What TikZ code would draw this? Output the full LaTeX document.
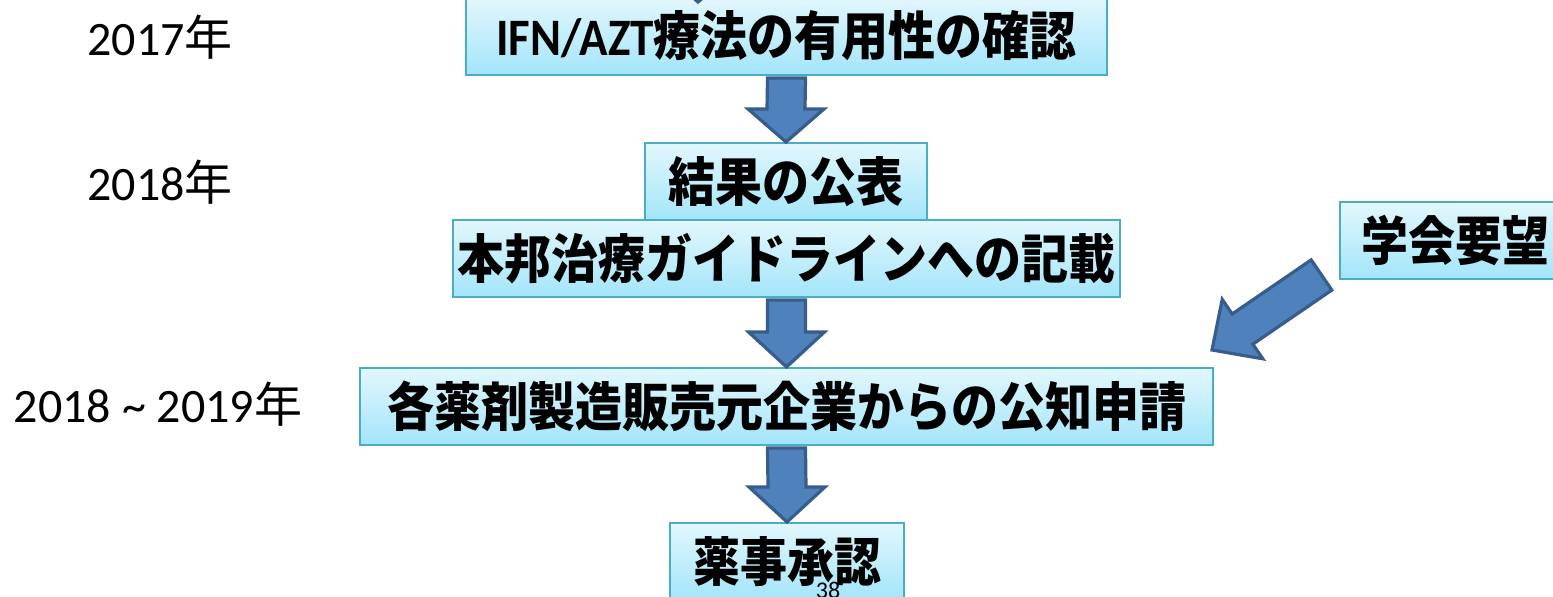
\documentclass[tikz,border=0pt]{standalone}
\usepackage{fontspec}
\usepackage{graphicx}
\usetikzlibrary{calc}
\newfontfamily\jp{Noto Sans CJK JP}
\newfontfamily\calibri{Carlito}
\definecolor{boxtop}{HTML}{E2F7FD}
\definecolor{boxbot}{HTML}{A3E5FA}
\definecolor{boxline}{HTML}{4BACC6}
\definecolor{arrfill}{HTML}{4F81BD}
\definecolor{arrline}{HTML}{385D8A}
\newcommand\tall[1]{\scalebox{1}[1.12]{#1}}
\tikzset{
  stepbox/.style={draw=boxline, line width=1pt, top color=boxtop, bottom color=boxbot,
    inner sep=0pt, minimum height=38.5pt, font=\jp\bfseries\fontsize{23.5}{28}\selectfont},
  blockarrow/.style={fill=arrfill, draw=arrline, line width=1.6pt, line join=miter},
  yearlabel/.style={inner sep=0pt, font=\calibri\fontsize{24}{28}\selectfont},
  pagenum/.style={inner sep=0pt, font=\calibri\fontsize{12}{14}\selectfont}
}
\newcommand\blockdown[3]{% from node, to node, head length
  \draw[blockarrow] ($(#1.south)+(-19,2)$) -- ($(#1.south)+(19,2)$)
    -- ($(#2.north)+(19,-#3)$) -- ($(#2.north)+(38,-#3)$) -- (#2.north)
    -- ($(#2.north)+(-38,-#3)$) -- ($(#2.north)+(-19,-#3)$) -- cycle;}
\begin{document}
\begin{tikzpicture}[x=0.5pt,y=-0.5pt]
\useasboundingbox (0,0) rectangle (1553,597);
% boxes
\node[stepbox, minimum width=320.5pt, minimum height=39pt] (b1) at (786.5,36)
  {\tall{{\calibri\bfseries IFN/AZT}療法の有用性の確認}};
\node[stepbox, minimum width=141pt] (b2) at (786,181.5) {\tall{結果の公表}};
\node[stepbox, minimum width=333.5pt] (b3) at (786.5,258.5) {\tall{本邦治療ガイドラインへの記載}};
\node[stepbox, minimum width=426.5pt] (b4) at (786.5,406.5) {\tall{各薬剤製造販売元企業からの公知申請}};
\node[stepbox, minimum width=117pt] (b5) at (787,561.5) {\tall{薬事承認}};
\node[stepbox, minimum width=115pt] (b6) at (1455,240.5) {\tall{学会要望}};
% arrow tip coming from above (cut off)
\coordinate (topin) at (698,2);
\draw[blockarrow] ($(topin)+(-19,-60)$) -- ($(topin)+(19,-60)$) -- ($(topin)+(19,-33)$)
  -- ($(topin)+(38,-33)$) -- (topin) -- ($(topin)+(-38,-33)$) -- ($(topin)+(-19,-33)$) -- cycle;
% down arrows
\blockdown{b1}{b2}{33}
\blockdown{b3}{b4}{35}
\blockdown{b4}{b5}{35}
% diagonal arrow from b6 towards b4
\coordinate (dtail) at (1321.5,275);
\coordinate (dtip) at (1212,350);
\draw[blockarrow] (1311.2,259.9) -- (1331.8,290.1) -- (1252.8,344.2) -- (1262.8,358.8)
  -- (dtip) -- (1222.2,299.4) -- (1232.2,314.0) -- cycle;
% year labels
\node[yearlabel] (y1) at (160,37) {2017{\jp 年}};
\node[yearlabel] (y2) at (160,182) {2018{\jp 年}};
\node[yearlabel] (y3) at (158,404) {2018 \char"007E{} 2019{\jp 年}};
\node[pagenum] (pn) at (828,590) {38};
\end{tikzpicture}
\end{document}
